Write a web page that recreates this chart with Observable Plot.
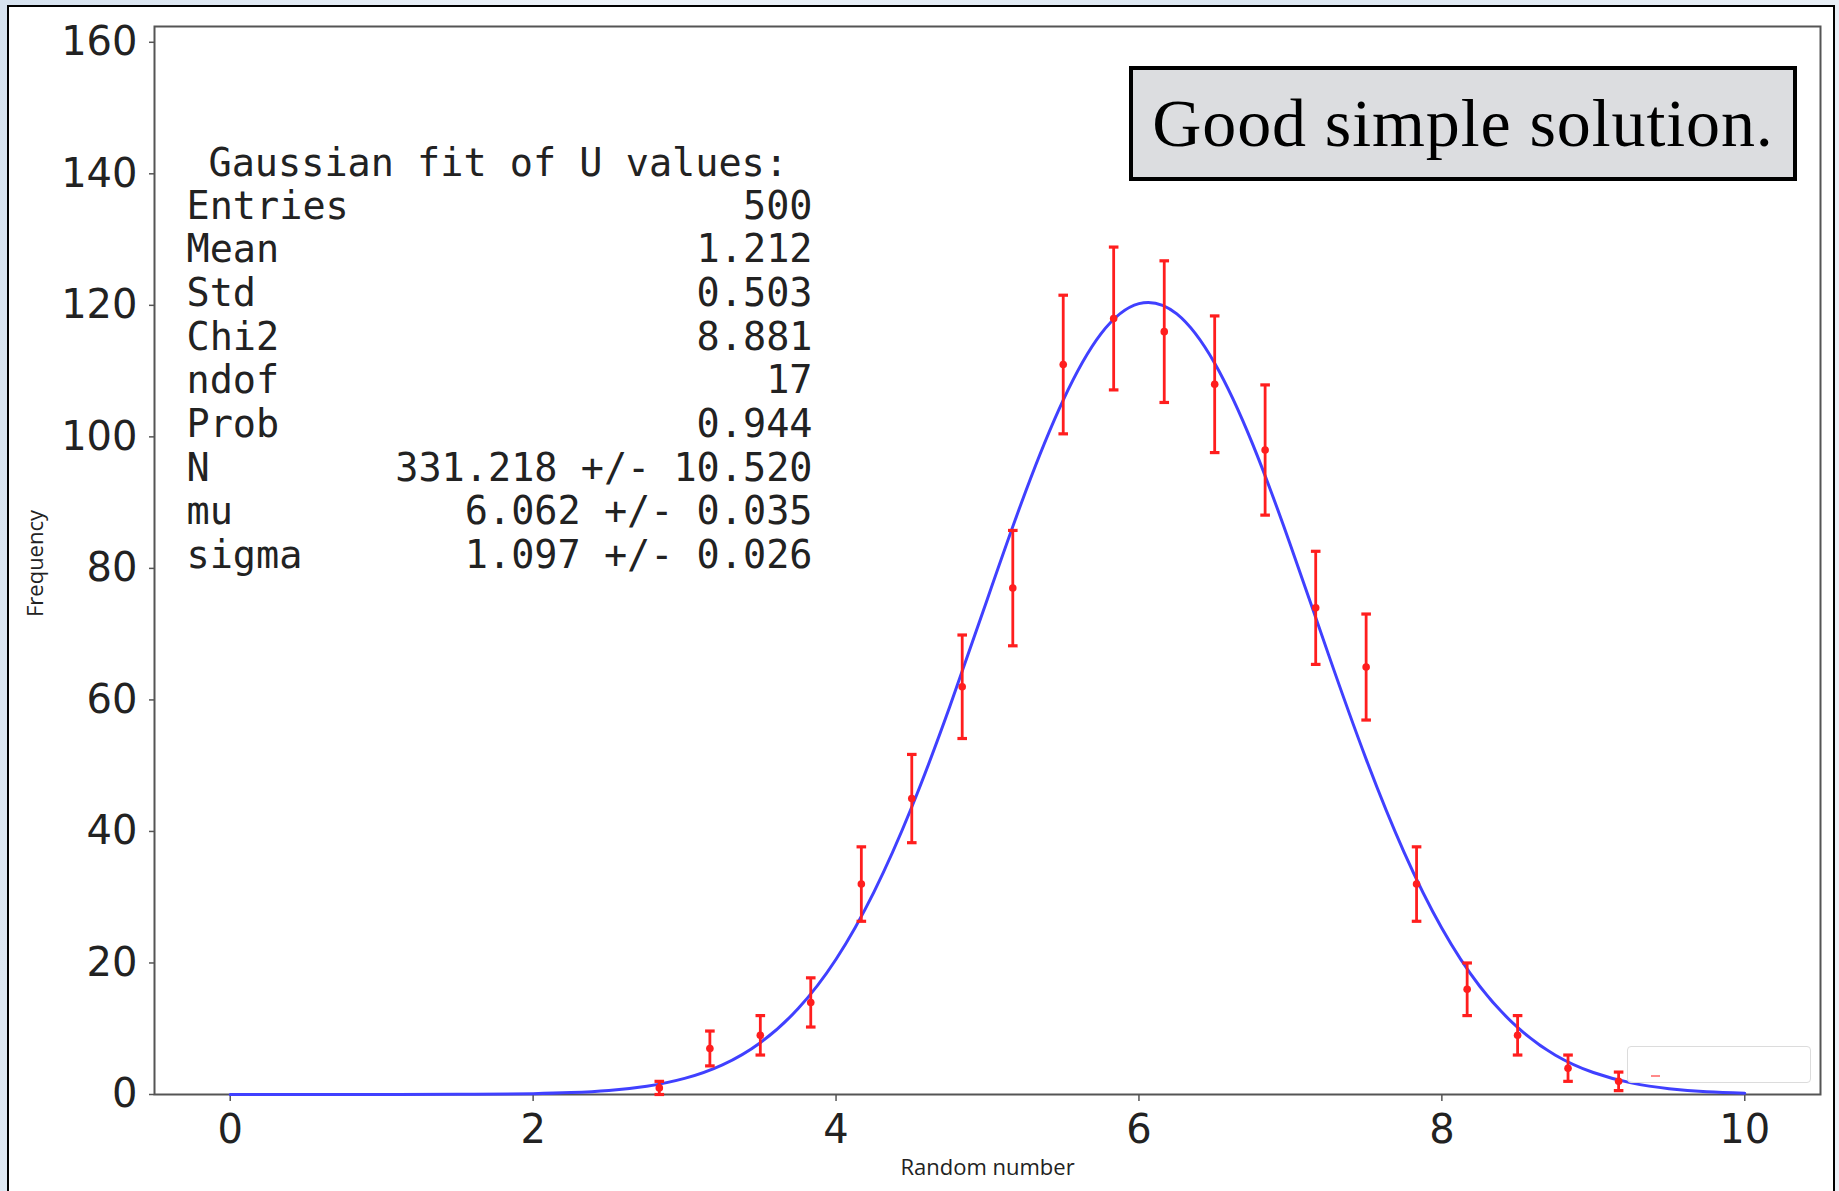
<!DOCTYPE html>
<html>
<head>
<meta charset="utf-8">
<script src="https://cdn.jsdelivr.net/npm/d3@7"></script>
<script src="https://cdn.jsdelivr.net/npm/@observablehq/plot@0.6"></script>
<style>
  html, body { margin: 0; padding: 0; }
  body {
    width: 1839px; height: 1191px; overflow: hidden; position: relative;
    background: linear-gradient(100deg, #d6e2ef 0%, #eef3f9 30%, #dbe6f1 60%, #edf2f8 100%);
  }
  #panel {
    position: absolute; left: 7px; top: 5px; width: 1824px; height: 1220px;
    border: 2.5px solid #000; background: #fff;
  }
  #chart { position: absolute; left: 0; top: 0; }
  #note {
    position: absolute; left: 1129px; top: 66px; width: 668px; height: 115px;
    box-sizing: border-box; border: 4px solid #000; background: #dcdde0;
    font-family: "Liberation Serif", "DejaVu Serif", serif; font-size: 68px; letter-spacing: 0.9px;
    display: flex; align-items: center; justify-content: center; color: #000;
  }
  #legendbox {
    position: absolute; left: 1627px; top: 1046px; width: 184px; height: 37px;
    box-sizing: border-box; border: 1.5px solid #dcdcdc; border-radius: 4px;
    background: rgba(255,255,255,0.8);
  }
  #legendhandle {
    position: absolute; left: 1651px; top: 1075px; width: 9px; height: 1.5px;
    background: rgba(255,60,60,0.6);
  }
</style>
</head>
<body>
<div id="panel"></div>
<div id="chart"></div>
<div id="note">Good simple solution.</div>
<div id="legendbox"></div>
<div id="legendhandle"></div>
<script>
// ---- data ----
const binCenters = [2.833, 3.167, 3.5, 3.833, 4.167, 4.5, 4.833, 5.167, 5.5, 5.833,
                    6.167, 6.5, 6.833, 7.167, 7.5, 7.833, 8.167, 8.5, 8.833, 9.167];
const counts     = [1, 7, 9, 14, 32, 45, 62, 77, 111, 118,
                    116, 108, 98, 74, 65, 32, 16, 9, 4, 2];
const errors     = [1.0, 2.65, 3.0, 3.74, 5.66, 6.71, 7.87, 8.77, 10.54, 10.86,
                    10.77, 10.39, 9.9, 8.6, 8.06, 5.66, 4.0, 3.0, 2.0, 1.41];

const curveXs = [0, 0.5, 1, 1.5, 2, 2.25, 2.5, 2.75, 3, 3.25, 3.5, 3.75, 4, 4.25, 4.5, 4.75,
                 5, 5.25, 5.5, 5.75, 6, 6.25, 6.5, 6.75, 7, 7.25, 7.5, 7.75, 8, 8.25,
                 8.5, 8.75, 9, 9.25, 9.5, 9.75, 10];
const curveYs = [0, 0, 0.003, 0.02, 0.13, 0.29, 0.62, 1.26, 2.45, 4.51, 7.88, 13.07, 20.57, 30.78, 43.71, 58.91,
                 75.39, 91.59, 105.6, 115.7, 120.26, 118.7, 111.2, 98.94, 83.57, 67.0, 51.0, 36.86, 25.28, 16.46,
                 10.2, 5.98, 3.34, 1.77, 0.89, 0.42, 0.19];

const xTicks = [0, 2, 4, 6, 8, 10];
const yTicks = [0, 20, 40, 60, 80, 100, 120, 140, 160];

const statTitle  = "Gaussian fit of U values:";
const statLabels = ["Entries", "Mean", "Std", "Chi2", "ndof", "Prob", "N", "mu", "sigma"];
const statValues = ["500", "1.212", "0.503", "8.881", "17", "0.944",
                    "331.218 +/- 10.520", "6.062 +/- 0.035", "1.097 +/- 0.026"];

const xLabel = "Random number";
const yLabel = "Frequency";

// ---- build ----
const points = binCenters.map((x, i) => ({x, y: counts[i], lo: counts[i] - errors[i], hi: counts[i] + errors[i]}));
const curve = curveXs.map((x, i) => ({x, y: curveYs[i]}));

const capSymbol = {
  draw(ctx, size) {
    const w = Math.sqrt(size / Math.PI);
    ctx.moveTo(-w, 0);
    ctx.lineTo(w, 0);
  }
};

const RED = "#ff1e1e";
const BLUE = "#4040ff";
const MONO = "DejaVu Sans Mono";
const FS = 38.5;
const LH = 43.7 / FS;

const chart = Plot.plot({
  width: 1839,
  height: 1191,
  marginLeft: 154,
  marginRight: 19,
  marginTop: 26,
  marginBottom: 97,
  style: {background: "transparent", fontFamily: "DejaVu Sans", fontSize: "40px", color: "#222"},
  x: {domain: [-0.5, 10.5]},
  y: {domain: [0, 162.4]},
  marks: [
    Plot.frame({stroke: "#555", strokeWidth: 2}),
    Plot.axisX({ticks: xTicks, tickSize: 7, tickPadding: 13, label: null, stroke: "#555", strokeWidth: 1.5, fontSize: 40, tickFormat: d => String(d)}),
    Plot.axisY({ticks: yTicks, tickSize: 5, tickPadding: 12, label: null, stroke: "#555", strokeWidth: 1.5, fontSize: 40, tickFormat: d => String(d)}),
    Plot.line(curve, {x: "x", y: "y", stroke: BLUE, strokeWidth: 3, curve: "natural"}),
    Plot.ruleX(points, {x: "x", y1: "lo", y2: "hi", stroke: RED, strokeWidth: 2.8}),
    Plot.dot(points, {x: "x", y: "lo", symbol: capSymbol, r: 4.8, stroke: RED, strokeWidth: 3.2, fill: "none"}),
    Plot.dot(points, {x: "x", y: "hi", symbol: capSymbol, r: 4.8, stroke: RED, strokeWidth: 3.2, fill: "none"}),
    Plot.dot(points, {x: "x", y: "y", r: 3.8, fill: RED, stroke: "none"}),
    // stats box
    Plot.text([statTitle], {frameAnchor: "top-left", dx: 54, dy: 122.5, lineAnchor: "top", textAnchor: "start",
      fontFamily: MONO, fontSize: FS, fill: "#222"}),
    Plot.text([statLabels.join("\n")], {frameAnchor: "top-left", dx: 32, dy: 161, lineAnchor: "top", textAnchor: "start",
      lineHeight: LH, fontFamily: MONO, fontSize: FS, fill: "#222"}),
    Plot.text([statValues.join("\n")], {frameAnchor: "top-left", dx: 658, dy: 161, lineAnchor: "top", textAnchor: "end",
      lineHeight: LH, fontFamily: MONO, fontSize: FS, fill: "#222"}),
    // axis labels
    Plot.text([xLabel], {frameAnchor: "bottom", dy: 80, fontFamily: "Open Sans", fontSize: 22, fill: "#222"}),
    Plot.text([yLabel], {frameAnchor: "left", dx: -119, dy: 3, rotate: -90, textAnchor: "middle", fontFamily: "Open Sans", fontSize: 22, fill: "#222"})
  ]
});

document.getElementById("chart").appendChild(chart);
</script>
</body>
</html>
